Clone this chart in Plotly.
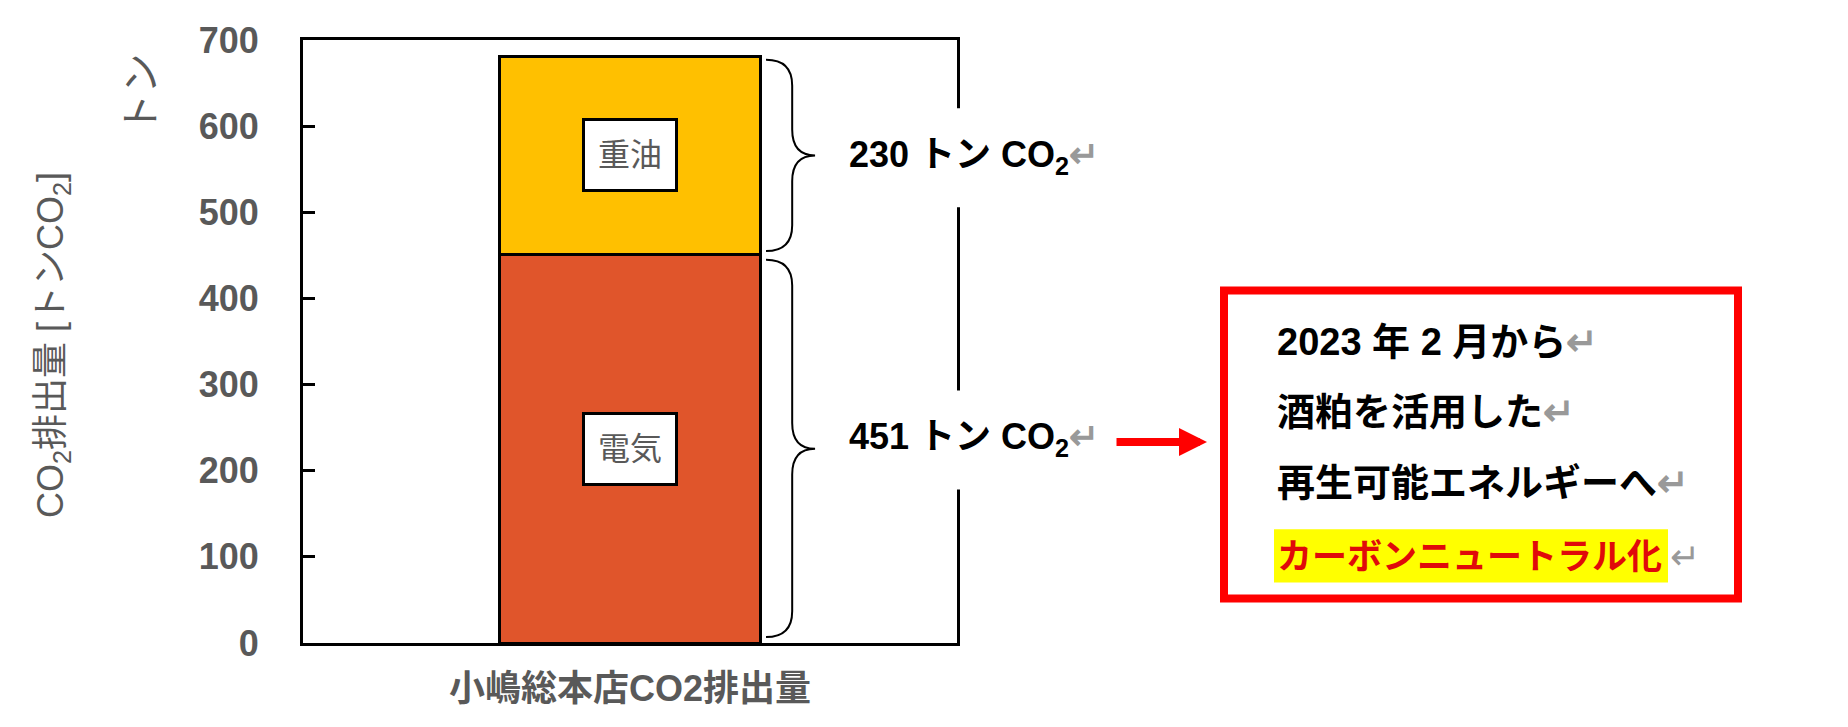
import plotly.graph_objects as go

# ---------------- data ----------------
category = ["小嶋総本店CO2排出量"]
series_names = ["電気", "重油"]
electricity = [451]
heavy_oil = [230]
series_colors = ["#E0552B", "#FFC000"]
y_ticks = [0, 100, 200, 300, 400, 500, 600, 700]
segment_labels = ["451 トン CO<sub>2</sub>", "230 トン CO<sub>2</sub>"]
box_lines = ["2023 年 2 月から", "酒粕を活用した", "再生可能エネルギーへ", "カーボンニュートラル化"]
y_title = "CO<sub>2</sub>排出量 [トンCO<sub>2</sub>]"

# ---------------- layout geometry (page pixels) ----------------
OFF = 8  # default body margin of the html page
W_PX, H_PX = 1848 - OFF, 727 - OFF
L, R, T, B = 303, 957, 34, 643
PW, PH = R - L, B - T


def px(xp):
    return (xp - L) / PW


def py(yp):
    return (B - yp) / PH


JP = "Liberation Sans, Noto Sans CJK JP"
GRAY = "#595959"

fig = go.Figure()
xpos = [0]
fig.add_trace(go.Bar(x=xpos, y=electricity, name=series_names[0], width=0.4,
                     marker=dict(color=series_colors[0], line=dict(color="black", width=3))))
fig.add_trace(go.Bar(x=xpos, y=heavy_oil, name=series_names[1], width=0.4,
                     marker=dict(color=series_colors[1], line=dict(color="black", width=3))))

shapes = []
annotations = []

segs = [(0, electricity[0]), (electricity[0], electricity[0] + heavy_oil[0])]

# braces (data coords)
xb, xv, xt = 0.208, 0.248, 0.283
r = 30
insets = [(7, 6), (4, 4)]
for (y0, y1), (ib, it) in zip(segs, insets):
    ya, yb = y0 + ib, y1 - it
    ym = (y0 + y1) / 2
    path = (f"M {xb},{yb} Q {xv},{yb} {xv},{yb - r} L {xv},{ym + r} "
            f"Q {xv},{ym} {xt},{ym} Q {xv},{ym} {xv},{ym - r} "
            f"L {xv},{ya + r} Q {xv},{ya} {xb},{ya}")
    shapes.append(dict(type="path", path=path, xref="x", yref="y",
                       line=dict(color="black", width=2)))

# inner labels on bars
for name, (y0, y1) in zip(series_names, segs):
    annotations.append(dict(x=0, y=(y0 + y1) / 2, xref="x", yref="y", text=name,
                            showarrow=False, font=dict(family=JP, size=32, color=GRAY),
                            bgcolor="white", bordercolor="black", borderwidth=3,
                            borderpad=0, width=90, height=68))

# gaps in the right spine behind the segment labels
for yc in [438, 153]:
    shapes.append(dict(type="rect", xref="paper", yref="paper", layer="above",
                       x0=px(945), x1=px(972), y0=py(yc + 50), y1=py(yc - 50),
                       fillcolor="white", line=dict(width=0)))

# segment value labels
for lab, (y0, y1), ys in zip(segment_labels, segs, [10, -2]):
    annotations.append(dict(x=px(847), y=(y0 + y1) / 2, xref="paper", yref="y",
                            xanchor="left", yanchor="middle", yshift=ys,
                            text=lab + '<span style="color:#999999">↵</span>',
                            showarrow=False,
                            font=dict(family=JP, size=36, color="black", weight="bold")))

# red arrow
annotations.append(dict(x=px(1207), y=py(440), xref="paper", yref="paper",
                        ax=-92, ay=0, axref="pixel", ayref="pixel", text="",
                        showarrow=True, arrowhead=2, arrowsize=0.7, arrowwidth=8,
                        arrowcolor="#FF0000", standoff=0, startstandoff=0))

# red box
shapes.append(dict(type="rect", xref="paper", yref="paper", layer="above",
                   x0=px(1224), x1=px(1738), y0=py(598), y1=py(287),
                   fillcolor="rgba(0,0,0,0)", line=dict(color="#FF0000", width=8)))

# yellow highlight behind the last line
shapes.append(dict(type="rect", xref="paper", yref="paper", layer="above",
                   x0=px(1274), x1=px(1668), y0=py(582), y1=py(528),
                   fillcolor="#FFFF00", line=dict(width=0)))

line_y = [339, 410, 481, 556]
for i, (txt, yc) in enumerate(zip(box_lines, line_y)):
    if i < 3:
        annotations.append(dict(x=px(1275), y=py(yc), xref="paper", yref="paper",
                                xanchor="left", yanchor="middle", showarrow=False,
                                text=txt + '<span style="color:#999999">↵</span>',
                                font=dict(family=JP, size=38, color="black", weight="bold")))
    else:
        annotations.append(dict(x=px(1275), y=py(yc), xref="paper", yref="paper",
                                xanchor="left", yanchor="middle", showarrow=False,
                                text=txt,
                                font=dict(family=JP, size=35, color="#E00A0A", weight="bold")))
        annotations.append(dict(x=px(1668), y=py(yc), xref="paper", yref="paper",
                                xanchor="left", yanchor="middle", showarrow=False,
                                text="↵", font=dict(family=JP, size=36, color="#999999")))

# y-axis title and stray fragment
annotations.append(dict(x=px(53), y=py(342), xref="paper", yref="paper", text=y_title,
                        xanchor="center", yanchor="middle",
                        textangle=-90, showarrow=False,
                        font=dict(family=JP, size=36, color=GRAY)))
annotations.append(dict(x=px(141), y=py(88), xref="paper", yref="paper", text="トン",
                        xanchor="center", yanchor="middle",
                        textangle=-90, showarrow=False,
                        font=dict(family=JP, size=40, color=GRAY)))

fig.update_layout(
    width=W_PX, height=H_PX,
    margin=dict(l=L - OFF, r=W_PX - (R - OFF), t=T - OFF, b=H_PX - (B - OFF), pad=0),
    barmode="stack", showlegend=False,
    plot_bgcolor="white", paper_bgcolor="white",
    shapes=shapes, annotations=annotations,
    xaxis=dict(range=[-0.5, 0.5], tickvals=xpos, ticktext=category, ticks="",
               showline=True, mirror=True, linecolor="black", linewidth=3,
               showgrid=False, zeroline=False, ticklabelstandoff=12,
               tickfont=dict(family=JP, size=36, color=GRAY, weight="bold")),
    yaxis=dict(range=[0, 700], tickvals=y_ticks, ticks="inside", ticklen=12,
               tickwidth=3, tickcolor="black", showline=True, mirror=True,
               linecolor="black", linewidth=3, showgrid=False, zeroline=False,
               ticklabelstandoff=34,
               tickfont=dict(family="Liberation Sans", size=36, color=GRAY, weight="bold")),
)

fig.write_html("out.html")
